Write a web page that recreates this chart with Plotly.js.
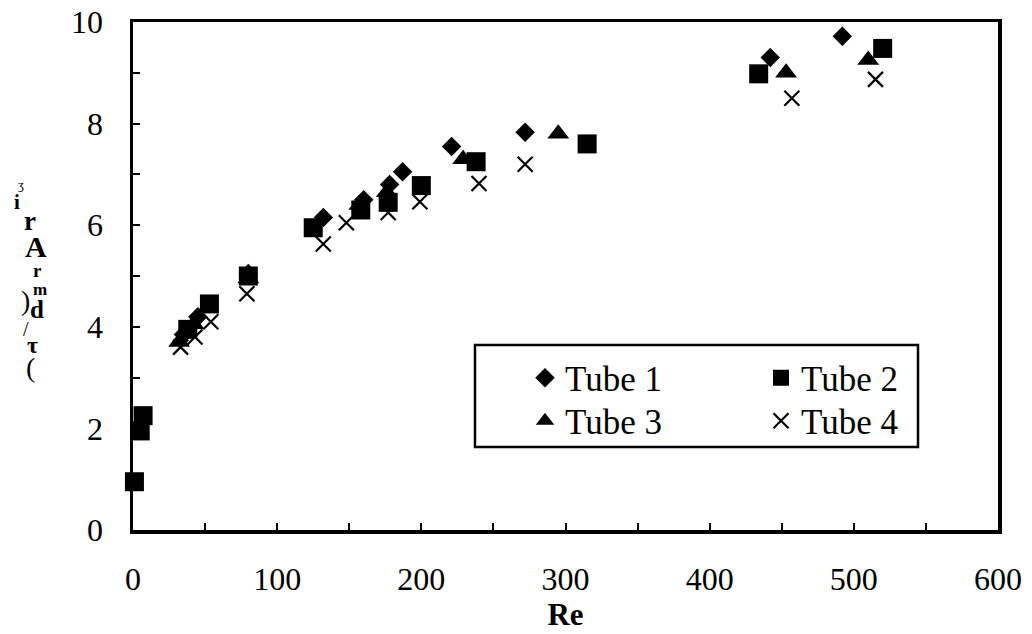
<!DOCTYPE html>
<html>
<head>
<meta charset="utf-8">
<script src="https://cdn.plot.ly/plotly-3.0.1.min.js"></script>
<style>html,body{margin:0;padding:0;background:#fff;}#chart{width:1032px;height:634px;}</style>
</head>
<body>
<div id="chart"></div>
<script>
// ---- data ----
const seriesNames = ["Tube 1", "Tube 2", "Tube 3", "Tube 4"];
const tube1Re = [35, 45, 80, 132, 160, 178, 187, 221, 272, 442, 492];
const tube1Y  = [3.85, 4.2, 5.05, 6.15, 6.5, 6.8, 7.05, 7.55, 7.83, 9.3, 9.72];
const tube2Re = [1, 5, 7, 38, 53, 80, 125, 158, 177, 200, 238, 315, 434, 520];
const tube2Y  = [0.95, 1.95, 2.25, 3.95, 4.45, 5.0, 5.95, 6.3, 6.45, 6.78, 7.25, 7.6, 8.98, 9.48];
const tube3Re = [32, 42, 80, 157, 176, 229, 295, 453, 510];
const tube3Y  = [3.7, 4.05, 4.95, 6.4, 6.65, 7.3, 7.8, 9.0, 9.25];
const tube4Re = [33, 43, 54, 79, 132, 148, 177, 199, 240, 272, 457, 515];
const tube4Y  = [3.6, 3.8, 4.1, 4.65, 5.63, 6.05, 6.25, 6.46, 6.82, 7.2, 8.5, 8.87];
const xTickVals = [0, 100, 200, 300, 400, 500, 600];
const yTickVals = [0, 2, 4, 6, 8, 10];
const xTitle = "Re";
// garbled vertical y-axis title glyphs as printed in the reference
const yTitleGlyphs = ["ʒ", "i", "r", "A", "r", "m", ")", "d", "/", "τ", "("];

// ---- layout helpers (pixel -> paper) ----
const W = 1032, H = 634;
const M = {l: 133, r: 34, t: 22, b: 104};
const PW = W - M.l - M.r, PH = H - M.t - M.b;
const px = x => (x - M.l) / PW;
const py = y => (H - M.b - y) / PH;

const FONT = "Liberation Serif";

const traces = [
  {x: tube1Re, y: tube1Y, name: seriesNames[0], legend: "legend",
   marker: {symbol: "diamond", size: 15, color: "#000"}},
  {x: tube2Re, y: tube2Y, name: seriesNames[1], legend: "legend",
   marker: {symbol: "square", size: 19, color: "#000"}},
  {x: tube3Re, y: tube3Y, name: seriesNames[2], legend: "legend2",
   marker: {symbol: "triangle-up", size: 19, color: "#000"}},
  {x: tube4Re, y: tube4Y, name: seriesNames[3], legend: "legend2",
   marker: {symbol: "x-thin", size: 15, color: "#000", line: {width: 2.2, color: "#000"}}}
].map(t => Object.assign({type: "scatter", mode: "markers", cliponaxis: false}, t));

// y title glyph placement [px, py, size, bold]
const glyphPos = [
  [21, 184, 13, false], [17, 202, 21, true], [30, 221, 27, true], [36, 246, 30, true],
  [37, 270, 19, true], [40, 289, 17, true], [25, 300, 28, false], [37, 309, 25, true],
  [26, 329, 20, false], [32, 345, 24, true], [30, 367, 28, false]
];
const annotations = yTitleGlyphs.map((g, i) => ({
  text: glyphPos[i][3] ? "<b>" + g + "</b>" : g,
  xref: "paper", yref: "paper", x: px(glyphPos[i][0]), y: py(glyphPos[i][1]),
  xanchor: "center", yanchor: "middle", showarrow: false, borderpad: 0,
  font: {family: FONT, size: glyphPos[i][2], color: "#000"}
}));

const legendCommon = {
  orientation: "h", xanchor: "left", yanchor: "middle",
  bgcolor: "rgba(0,0,0,0)", borderwidth: 0,
  font: {family: FONT, size: 35, color: "#000"},
  entrywidth: 191, entrywidthmode: "pixels", itemclick: false
};

const layout = {
  width: W, height: H,
  margin: M,
  font: {family: FONT, color: "#000"},
  paper_bgcolor: "#fff", plot_bgcolor: "#fff",
  showlegend: true,
  legend: Object.assign({x: px(525), y: py(378)}, legendCommon),
  legend2: Object.assign({x: px(525), y: py(421)}, legendCommon),
  xaxis: {
    range: [0, 600], tickvals: xTickVals, ticktext: xTickVals.map(String),
    ticks: "inside", ticklen: 7, tickwidth: 2, tickcolor: "#000",
    minor: {dtick: 50, tick0: 0, ticks: "inside", ticklen: 7, tickwidth: 2, tickcolor: "#000", showgrid: false},
    showline: true, linecolor: "#000", linewidth: 3.5, mirror: true,
    showgrid: false, zeroline: false,
    ticklabelstandoff: 18,
    tickfont: {family: FONT, size: 32, color: "#000"},
    title: {text: "<b>" + xTitle + "</b>", font: {family: FONT, size: 31, color: "#000"}, standoff: 0}
  },
  yaxis: {
    range: [0, 10], tickvals: yTickVals, ticktext: yTickVals.map(String),
    ticks: "inside", ticklen: 7, tickwidth: 2, tickcolor: "#000",
    minor: {dtick: 1, tick0: 0, ticks: "inside", ticklen: 7, tickwidth: 2, tickcolor: "#000", showgrid: false},
    showline: true, linecolor: "#000", linewidth: 3.5, mirror: true,
    showgrid: false, zeroline: false,
    ticklabelstandoff: 20,
    tickfont: {family: FONT, size: 32, color: "#000"}
  },
  shapes: [{
    type: "rect", xref: "paper", yref: "paper",
    x0: px(475), x1: px(918), y0: py(447), y1: py(345),
    line: {color: "#000", width: 2.5}, fillcolor: "rgba(0,0,0,0)"
  }],
  annotations: annotations
};

Plotly.newPlot("chart", traces, layout, {staticPlot: true, displayModeBar: false});
</script>
</body>
</html>
